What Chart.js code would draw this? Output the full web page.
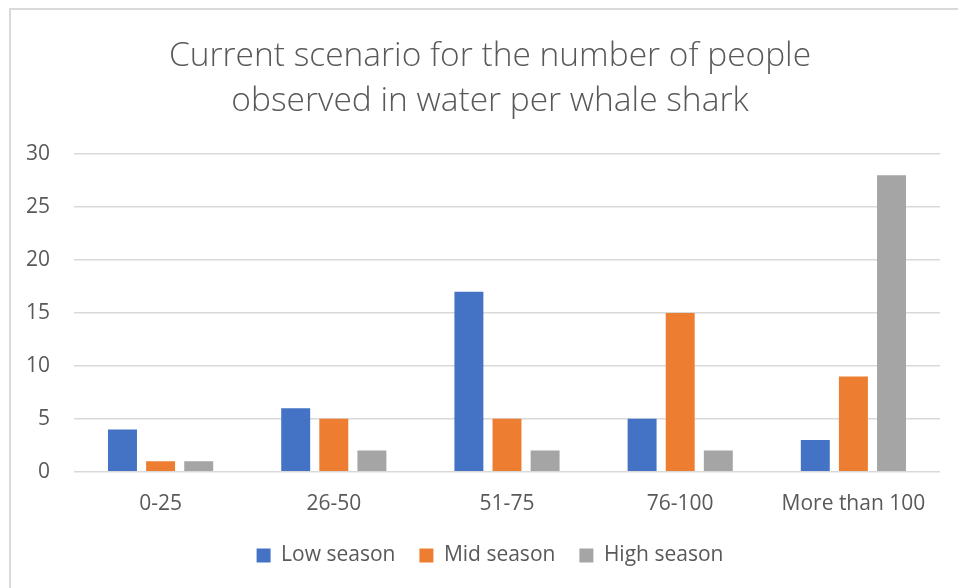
<!DOCTYPE html>
<html>
<head>
<meta charset="utf-8">
<script src="https://cdn.jsdelivr.net/npm/chart.js@4.4.1/dist/chart.umd.min.js"></script>
<style>
  html, body { margin: 0; padding: 0; background: #fff; }
  #frame {
    position: absolute; left: 9px; top: 8px; width: 960px; height: 600px;
    border-left: 2px solid #d9d9d9; border-top: 2px solid #d9d9d9;
  }
  #wrap { position: absolute; left: 0; top: 0; width: 958px; height: 588px; }
</style>
</head>
<body>
<div id="frame"></div>
<div id="wrap"><canvas id="chart"></canvas></div>
<script>
const categories = ["0-25", "26-50", "51-75", "76-100", "More than 100"];
const lowSeason = [4, 6, 17, 5, 3];
const midSeason = [1, 5, 5, 15, 9];
const highSeason = [1, 2, 2, 2, 28];
const titleLines = ["Current scenario for the number of people", "observed in water per whale shark"];

const textColor = "#595959";
const gridColor = "#d9d9d9";
const fontFamily = "'Open Sans', sans-serif";

function bar(label, data, color) {
  return {
    label: label,
    data: data,
    backgroundColor: color,
    categoryPercentage: 0.66,
    barPercentage: 0.76,
  };
}

// title and legend are centred on the whole frame, not only the plot
const shiftBlocks = {
  id: "shiftBlocks",
  afterLayout(chart) {
    chart.titleBlock.left += 40;
    chart.legend.left += 40;
  },
};

new Chart(document.getElementById("chart"), {
  type: "bar",
  data: {
    labels: categories,
    datasets: [
      bar("Low season", lowSeason, "#4472C4"),
      bar("Mid season", midSeason, "#ED7D31"),
      bar("High season", highSeason, "#A5A5A5"),
    ],
  },
  options: {
    responsive: true,
    maintainAspectRatio: false,
    animation: false,
    layout: { padding: { left: 0, right: 18, top: 0, bottom: 12 } },
    scales: {
      x: {
        grid: { display: false },
        border: { display: false },
        ticks: { color: textColor, font: { family: fontFamily, size: 21 }, padding: 12 },
        afterFit: (scale) => { scale.height = scale.height - 8; },
      },
      y: {
        min: 0,
        max: 30,
        ticks: { stepSize: 5, color: textColor, font: { family: fontFamily, size: 21 }, padding: 24 },
        grid: { color: gridColor, lineWidth: 1.5, drawTicks: false },
        border: { display: false },
        afterFit: (scale) => { scale.width = 74; },
      },
    },
    plugins: {
      title: {
        display: true,
        text: titleLines,
        color: textColor,
        font: { family: fontFamily, size: 33.5, weight: "300", lineHeight: 1.343 },
        padding: { top: 34, bottom: 30 },
      },
      legend: {
        position: "bottom",
        labels: {
          color: textColor,
          font: { family: fontFamily, size: 21 },
          boxWidth: 14,
          boxHeight: 14,
          padding: 24,
        },
      },
      tooltip: { enabled: false },
    },
  },
  plugins: [shiftBlocks],
});
</script>
</body>
</html>
